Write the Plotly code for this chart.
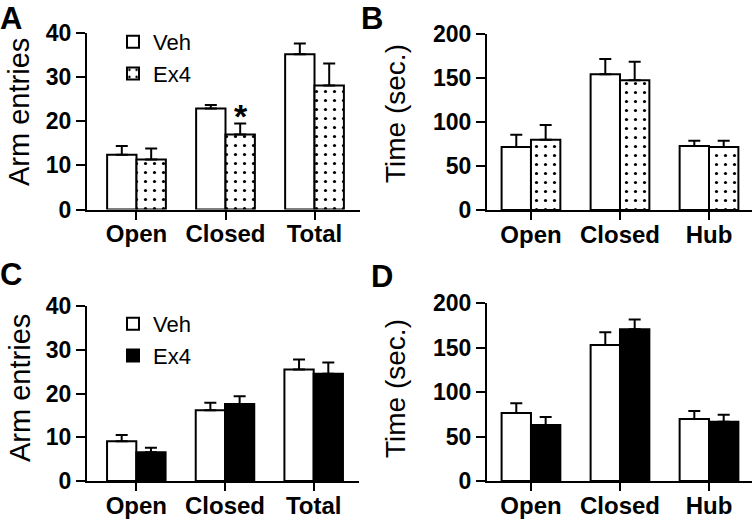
import plotly.graph_objects as go

# ---------------- data ----------------
cats_arms = ["Open", "Closed", "Total"]
cats_time = ["Open", "Closed", "Hub"]

a_veh = [12.4, 22.9, 35.2]
a_veh_err = [2.0, 0.8, 2.4]
a_ex4 = [11.35, 17.0, 28.1]
a_ex4_err = [2.45, 2.5, 5.0]

b_veh = [71.5, 154.4, 72.6]
b_veh_err = [14.1, 17.1, 6.1]
b_ex4 = [79.8, 147.5, 71.5]
b_ex4_err = [16.8, 20.9, 7.2]

c_veh = [9.1, 16.2, 25.5]
c_veh_err = [1.4, 1.7, 2.3]
c_ex4 = [6.6, 17.6, 24.5]
c_ex4_err = [1.0, 1.8, 2.6]

d_veh = [76.4, 152.8, 69.7]
d_veh_err = [10.9, 14.2, 9.0]
d_ex4 = [62.9, 170.4, 66.7]
d_ex4_err = [9.0, 11.2, 7.8]

series_names = ["Veh", "Ex4"]
arm_ticks = [0, 10, 20, 30, 40]
time_ticks = [0, 50, 100, 150, 200]

W, H = 755, 522
FONT = "Liberation Sans, Arial, Helvetica, sans-serif"


def px_x(p):
    return p / W


def px_y(p):
    return 1 - p / H


def err(arr):
    return dict(type="data", symmetric=False, array=arr, arrayminus=[0] * len(arr),
                width=6, thickness=2, color="black")


fig = go.Figure()

dotted = dict(shape=".", fgcolor="black", bgcolor="white", size=9, solidity=0.1, fgopacity=1)

panels = [
    ("x", "y", cats_arms, a_veh, a_veh_err, a_ex4, a_ex4_err, "dots", "legend"),
    ("x2", "y2", cats_time, b_veh, b_veh_err, b_ex4, b_ex4_err, "dots", None),
    ("x3", "y3", cats_arms, c_veh, c_veh_err, c_ex4, c_ex4_err, "black", "legend2"),
    ("x4", "y4", cats_time, d_veh, d_veh_err, d_ex4, d_ex4_err, "black", None),
]

for xa, ya, cats, veh, veh_e, ex4, ex4_e, style, leg in panels:
    fig.add_trace(go.Bar(
        x=cats, y=veh, name=series_names[0], xaxis=xa, yaxis=ya,
        marker=dict(color="white", line=dict(color="black", width=2)),
        error_y=err(veh_e), showlegend=leg is not None,
        legend=leg if leg else "legend", hoverinfo="skip",
    ))
    if style == "dots":
        mk = dict(color="white", line=dict(color="black", width=2), pattern=dotted)
    else:
        mk = dict(color="black", line=dict(color="black", width=2))
    fig.add_trace(go.Bar(
        x=cats, y=ex4, name=series_names[1], xaxis=xa, yaxis=ya,
        marker=mk, error_y=err(ex4_e), showlegend=leg is not None,
        legend=leg if leg else "legend", hoverinfo="skip",
    ))


def xaxis_style():
    return dict(showgrid=False, zeroline=False, showline=True, linecolor="black",
                linewidth=2, ticks="outside", ticklen=8, tickwidth=2, tickcolor="black",
                tickfont=dict(family=FONT, size=24, color="black", weight="bold"),
                ticklabelstandoff=-6, fixedrange=True)


def yaxis_style():
    return dict(showgrid=False, zeroline=False, showline=True, linecolor="black",
                linewidth=2, ticks="outside", ticklen=9, tickwidth=2, tickcolor="black",
                tickfont=dict(family=FONT, size=23, color="black", weight="bold"),
                fixedrange=True)


rng_left = [-0.556, 2.511]
rng_right = [-0.494, 2.483]

fig.update_layout(
    width=W, height=H,
    margin=dict(l=0, r=0, t=0, b=0, autoexpand=False),
    paper_bgcolor="white", plot_bgcolor="white",
    barmode="group", bargap=0.34, bargroupgap=0,
    font=dict(family=FONT, color="black"),
    xaxis=dict(domain=[px_x(87), px_x(360)], anchor="y", range=rng_left, **xaxis_style()),
    yaxis=dict(domain=[px_y(209.5), px_y(33)], anchor="x", range=[0, 40], tickvals=arm_ticks, **yaxis_style()),
    xaxis2=dict(domain=[px_x(487), px_x(752)], anchor="y2", range=rng_right, **xaxis_style()),
    yaxis2=dict(domain=[px_y(210), px_y(34)], anchor="x2", range=[0, 200], tickvals=time_ticks, **yaxis_style()),
    xaxis3=dict(domain=[px_x(87), px_x(359)], anchor="y3", range=rng_left, **xaxis_style()),
    yaxis3=dict(domain=[px_y(481), px_y(306)], anchor="x3", range=[0, 40], tickvals=arm_ticks, **yaxis_style()),
    xaxis4=dict(domain=[px_x(487), px_x(752)], anchor="y4", range=rng_right, **xaxis_style()),
    yaxis4=dict(domain=[px_y(481), px_y(303)], anchor="x4", range=[0, 200], tickvals=time_ticks, **yaxis_style()),
    legend=dict(x=px_x(113), y=px_y(21), xanchor="left", yanchor="top",
                font=dict(family=FONT, size=22, color="black"),
                bgcolor="rgba(0,0,0,0)", borderwidth=0, itemclick=False, itemdoubleclick=False),
    legend2=dict(x=px_x(113), y=px_y(303), xanchor="left", yanchor="top",
                 font=dict(family=FONT, size=22, color="black"),
                 bgcolor="rgba(0,0,0,0)", borderwidth=0, itemclick=False, itemdoubleclick=False),
    showlegend=True,
)

annotations = []
# panel letters
for letter, xp, yp in [("A", -1, 0), ("B", 360, 0), ("C", -1, 256), ("D", 370, 258)]:
    annotations.append(dict(text=letter, xref="paper", yref="paper", x=px_x(xp), y=px_y(yp),
                            xanchor="left", yanchor="top", showarrow=False, borderpad=0,
                            font=dict(family=FONT, size=31, color="black", weight="bold")))
# axis titles
for title, xc, yc, size in [("Arm entries", 19, 112, 29), ("Time (sec.)", 395, 114, 28),
                            ("Arm entries", 20, 388, 29), ("Time (sec.)", 395, 389, 28)]:
    annotations.append(dict(text=title, xref="paper", yref="paper", x=px_x(xc), y=px_y(yc),
                            xanchor="center", yanchor="middle", textangle=-90, showarrow=False,
                            font=dict(family=FONT, size=size, color="black")))
# significance marker above Ex4 Closed (panel A)
annotations.append(dict(text="*", xref="x", yref="y", x=cats_arms[1],
                        y=a_ex4[1] + a_ex4_err[1], xshift=15, yshift=-14,
                        xanchor="center", yanchor="bottom", showarrow=False,
                        font=dict(family=FONT, size=34, color="black", weight="bold")))
fig.update_layout(annotations=annotations, hovermode=False)

fig.write_html("out.html", config={"displayModeBar": False, "staticPlot": True},
               post_script="document.body.style.margin='0';document.body.style.overflow='hidden';")
